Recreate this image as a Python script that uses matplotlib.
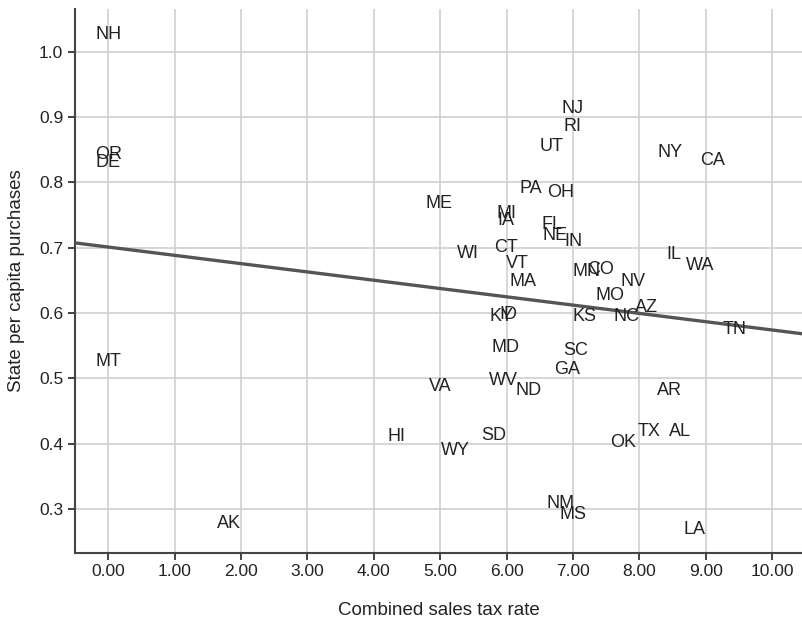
import numpy as np
import matplotlib
matplotlib.use("Agg")
import matplotlib.pyplot as plt

# state labels, sales tax rate (x) and per capita purchases (y)
states = ["NH", "OR", "DE", "MT", "AK", "HI", "WY", "VA", "SD", "MD",
          "WV", "ND", "GA", "SC", "AR", "OK", "TX", "AL", "NM", "MS",
          "LA", "TN", "NJ", "RI", "UT", "NY", "CA", "PA", "OH", "ME",
          "MI", "IA", "FL", "NE", "IN", "CT", "WI", "VT", "MA", "MN",
          "CO", "NV", "MO", "AZ", "NC", "KS", "KY", "ID", "IL", "WA"]
tax_rate = [0.00, 0.00, 0.00, 0.00, 1.82, 4.35, 5.23, 5.00, 5.81, 5.99,
            5.95, 6.33, 6.91, 7.04, 8.46, 7.75, 8.15, 8.61, 6.82, 7.00,
            8.83, 9.43, 6.99, 7.00, 6.68, 8.47, 9.10, 6.36, 6.81, 4.99,
            6.00, 5.99, 6.68, 6.73, 7.00, 5.99, 5.42, 6.16, 6.25, 7.21,
            7.42, 7.90, 7.56, 8.11, 7.81, 7.18, 5.93, 6.03, 8.52, 8.92]
purchases = [1.026, 0.843, 0.830, 0.525, 0.278, 0.411, 0.390, 0.487, 0.413, 0.547,
             0.497, 0.481, 0.513, 0.542, 0.481, 0.401, 0.418, 0.418, 0.308, 0.292,
             0.269, 0.575, 0.913, 0.885, 0.855, 0.845, 0.833, 0.791, 0.784, 0.767,
             0.753, 0.742, 0.735, 0.718, 0.709, 0.701, 0.691, 0.676, 0.648, 0.663,
             0.667, 0.648, 0.627, 0.608, 0.594, 0.594, 0.594, 0.598, 0.689, 0.672]

# fitted line
fit_intercept = 0.701
fit_slope = -0.0127

x_ticks = [0, 1, 2, 3, 4, 5, 6, 7, 8, 9, 10]
y_ticks = [0.3, 0.4, 0.5, 0.6, 0.7, 0.8, 0.9, 1.0]

plt.rcParams["font.family"] = ["Liberation Sans", "DejaVu Sans"]

fig = plt.figure(figsize=(8.02, 6.21), dpi=100)
ax = fig.add_axes([0.0935, 0.110, 0.9065, 0.875])

ax.set_xlim(-0.5, 10.45)
ax.set_ylim(0.233, 1.065)

ax.grid(True, color="#cfcfd2", linewidth=1.2)
ax.set_axisbelow(True)

xs = np.array(ax.get_xlim())
ax.plot(xs, fit_intercept + fit_slope * xs, color="#555555", linewidth=2.4, zorder=3)

for name, x, y in zip(states, tax_rate, purchases):
    ax.text(x, y, name, ha="center", va="center", fontsize=13,
            color="#222222", zorder=4)

ax.set_xticks(x_ticks)
ax.set_xticklabels(["{:.2f}".format(v) for v in x_ticks])
ax.set_yticks(y_ticks)
ax.set_yticklabels(["{:.1f}".format(v) for v in y_ticks])
ax.tick_params(labelsize=12.5, colors="#222222", length=5, width=1.2)

for side in ["top", "right"]:
    ax.spines[side].set_visible(False)
for side in ["left", "bottom"]:
    ax.spines[side].set_color("#444444")
    ax.spines[side].set_linewidth(1.5)

ax.set_xlabel("Combined sales tax rate", fontsize=13.5, color="#222222", labelpad=16)
ax.set_ylabel("State per capita purchases", fontsize=13.5, color="#222222", labelpad=10)

fig.savefig("out.png", dpi=100)
